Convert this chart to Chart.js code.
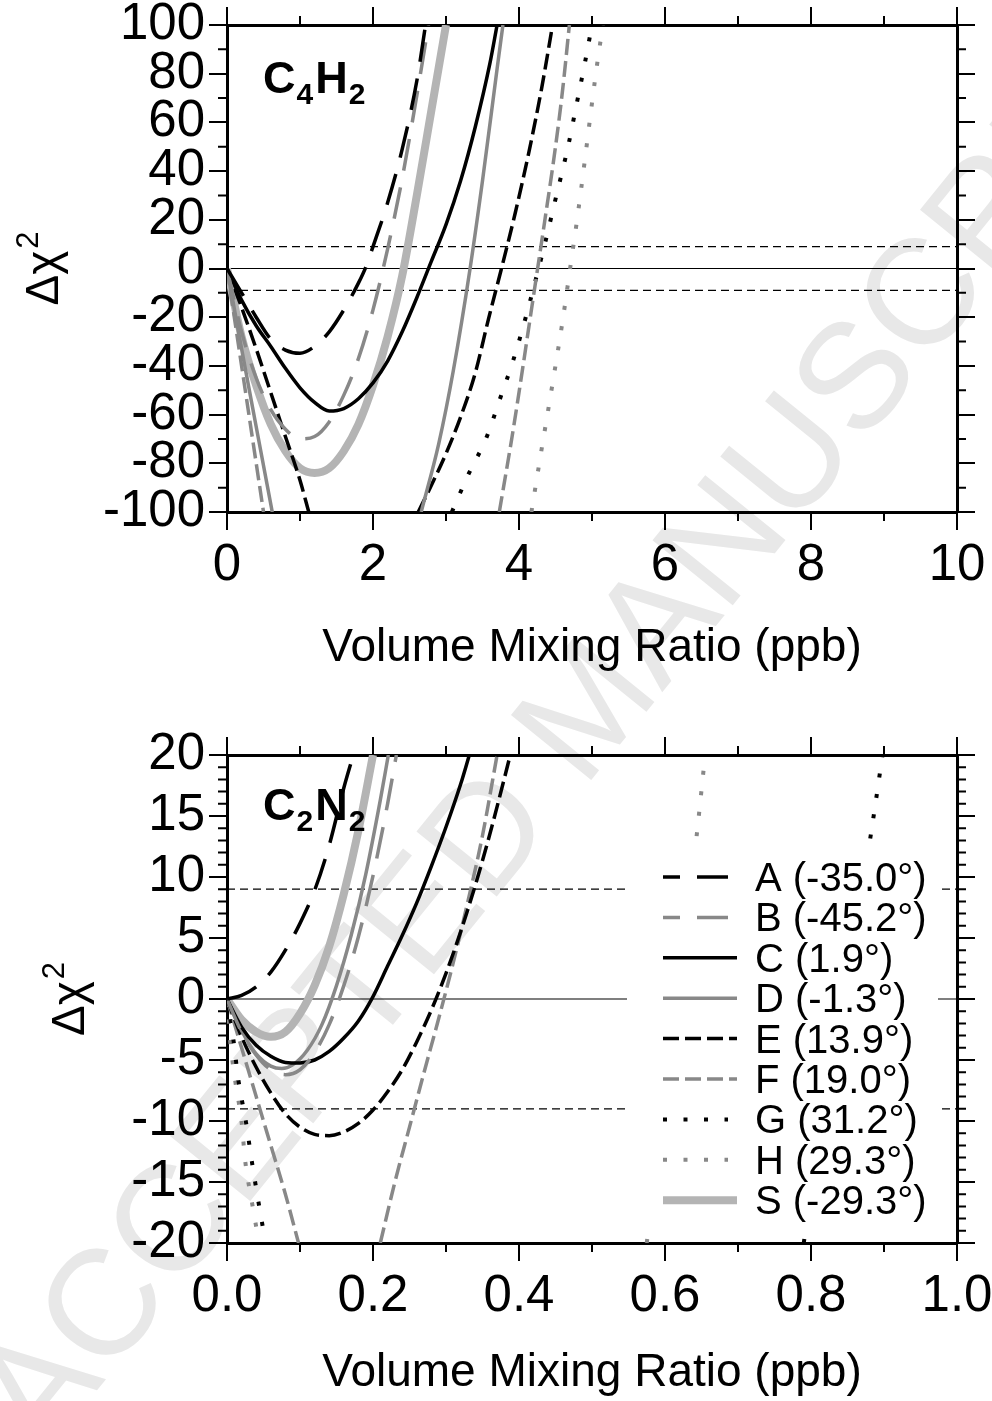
<!DOCTYPE html>
<html lang="en">
<head>
<meta charset="UTF-8">
<title>C4H2 / C2N2 delta chi-square</title>
<style>
    body {
        margin: 0;
        width: 992px;
        height: 1401px;
        position: relative;
        overflow: hidden;
        background: #fff;
        font-family: "Liberation Sans", Arial, sans-serif;
    }
    .wm {
        position: absolute;
        left: 585px;
        top: 705px;
        transform: translate(-50%, -50%) rotate(-51deg);
        font-size: 150px;
        line-height: 1;
        white-space: nowrap;
        color: #e8e8e8;
        z-index: 0;
    }
    canvas {
        position: absolute;
        left: 0;
        z-index: 1;
    }
    #c4h2 { top: 0; }
    #c2n2 { top: 700px; }
</style>
</head>
<body>
<div class="wm">ACCEPTED MANUSCRIPT</div>
<canvas id="c4h2" width="992" height="700"></canvas>
<canvas id="c2n2" width="992" height="701"></canvas>

<script src="https://cdn.jsdelivr.net/npm/chart.js@4.4.1/dist/chart.umd.min.js"></script>
<script>
// series labels (occultation, latitude)
const seriesNames = ['A (-35.0°)', 'B (-45.2°)', 'C (1.9°)', 'D (-1.3°)', 'E (13.9°)',
                     'F (19.0°)', 'G (31.2°)', 'H (29.3°)', 'S (-29.3°)'];

// C4H2 panel: [VMR ppb, delta chi^2]; null = curve leaves the plot
const c4h2A = [[0,0],[0.2,-10],[0.4,-20],[0.6,-29],[0.8,-33.5],[1.0,-34.8],[1.2,-32],[1.4,-26],[1.6,-17],[1.8,-6],[1.9,0.5],[2.0,9],[2.2,27],[2.4,49],[2.6,77],[2.72,100]];
const c4h2B = [[0,0],[0.2,-26],[0.4,-45],[0.6,-58],[0.8,-66],[1.0,-70],[1.2,-69],[1.4,-63],[1.6,-52],[1.8,-37],[2.0,-17],[2.2,8],[2.4,37],[2.6,71],[2.76,100]];
const c4h2C = [[0,0],[0.2,-13],[0.4,-23.5],[0.6,-32],[0.8,-41],[1.0,-49],[1.2,-55],[1.4,-58.5],[1.6,-57.5],[1.8,-53.5],[2.0,-47],[2.2,-38],[2.4,-26],[2.6,-12],[2.8,3],[3.0,18],[3.2,36],[3.4,58],[3.6,84],[3.7,100]];
const c4h2D = [[0,0],[0.2,-33],[0.4,-65],[0.62,-100],[1.6,null],[2.66,-100],[2.9,-72],[3.1,-42],[3.33,0],[3.5,36],[3.7,82],[3.78,100]];
const c4h2E = [[0,0],[0.2,-16],[0.4,-33],[0.6,-51],[0.8,-69],[1.0,-87],[1.12,-100],[1.8,null],[2.62,-100],[2.8,-89],[3.0,-76],[3.2,-61],[3.4,-43],[3.58,-21],[3.76,0],[3.95,23],[4.13,47],[4.31,74],[4.46,100]];
const c4h2F = [[0,0],[0.2,-40],[0.4,-80],[0.5,-100],[2.0,null],[3.73,-100],[3.9,-70],[4.01,-49],[4.13,-25],[4.25,-1],[4.35,19],[4.5,50],[4.6,74],[4.69,100]];
const c4h2G = [[3.08,-100],[3.3,-85],[3.56,-69],[3.74,-53.5],[3.92,-37.8],[4.08,-21.4],[4.22,-5.6],[4.36,10.8],[4.49,27.2],[4.68,51.2],[4.79,67.6],[4.9,84],[5.0,100]];
const c4h2H = [[4.17,-100],[4.3,-76],[4.45,-49],[4.6,-21],[4.7,0],[4.8,21],[4.9,44],[5.0,68],[5.08,86],[5.15,100]];
const c4h2S = [[0,0],[0.2,-28],[0.4,-48],[0.6,-64],[0.8,-75],[1.0,-82],[1.2,-84],[1.4,-82],[1.6,-75],[1.8,-64],[2.0,-48],[2.2,-28],[2.4,-3],[2.6,30],[2.8,65],[3.0,100]];

// C2N2 panel
const c2n2A = [[0,0],[0.02,0.3],[0.04,1.0],[0.06,2.2],[0.08,4.0],[0.1,6.2],[0.12,8.9],[0.14,12.6],[0.16,17.3],[0.173,20]];
const c2n2B = [[0,0],[0.02,-2.7],[0.04,-4.6],[0.06,-5.8],[0.08,-6.2],[0.1,-5.8],[0.12,-4.4],[0.14,-2.1],[0.16,1.1],[0.18,5.1],[0.2,10.1],[0.22,16],[0.232,20]];
const c2n2C = [[0,0],[0.02,-2.3],[0.04,-3.8],[0.06,-4.7],[0.08,-5.2],[0.1,-5.25],[0.12,-5.0],[0.14,-4.3],[0.16,-3.2],[0.18,-1.8],[0.2,0.2],[0.22,2.7],[0.24,5.2],[0.26,7.9],[0.28,10.9],[0.3,14.1],[0.32,17.6],[0.332,20]];
const c2n2D = [[0,0],[0.02,-2.6],[0.04,-4.5],[0.06,-5.5],[0.075,-5.7],[0.09,-5.4],[0.11,-4.2],[0.13,-2.1],[0.15,1.1],[0.17,5.2],[0.19,10.2],[0.21,16.3],[0.221,20]];
const c2n2E = [[0,0],[0.02,-3.1],[0.04,-5.6],[0.06,-7.7],[0.08,-9.4],[0.1,-10.5],[0.12,-11.1],[0.14,-11.2],[0.16,-10.9],[0.18,-10.2],[0.2,-9.1],[0.22,-7.6],[0.24,-5.8],[0.26,-3.5],[0.28,-0.9],[0.3,2.1],[0.32,5.5],[0.34,9.3],[0.36,13.5],[0.38,18.1],[0.388,20]];
const c2n2F = [[0,0],[0.02,-4],[0.04,-8],[0.06,-12],[0.08,-16],[0.098,-20],[0.15,null],[0.21,-20],[0.23,-15],[0.25,-10.5],[0.27,-6],[0.29,-1.6],[0.31,3],[0.33,8],[0.35,13.4],[0.37,20]];
const c2n2G = [[0,0],[0.0087,-3.3],[0.0155,-6.6],[0.026,-10.1],[0.034,-13.3],[0.043,-16.6],[0.052,-19.7],[0.4,null],[0.79,-20],[0.881,13.1],[0.898,20]];
const c2n2H = [[0,0],[0.0041,-3.3],[0.011,-6.6],[0.02,-10.1],[0.025,-13.3],[0.034,-16.6],[0.043,-19.7],[0.3,null],[0.575,-20],[0.643,13.2],[0.655,20]];
const c2n2S = [[0,0],[0.02,-1.7],[0.04,-2.7],[0.06,-3.1],[0.08,-2.7],[0.1,-1.2],[0.12,1.1],[0.14,4.3],[0.16,8.6],[0.18,13.8],[0.2,20]];

// delta chi^2 reference levels (0 solid, +/-9 dashed)
const refLevels = [0, 9, -9];

// axis ticks
const c4h2XTicks = [0, 2, 4, 6, 8, 10];
const c4h2XMinor = [1, 3, 5, 7, 9];
const c4h2YTicks = [-100, -80, -60, -40, -20, 0, 20, 40, 60, 80, 100];
const c4h2YMinor = [-90, -70, -50, -30, -10, 10, 30, 50, 70, 90];
const c2n2XTicks = [0, 0.2, 0.4, 0.6, 0.8, 1.0];
const c2n2XMinor = [0.1, 0.3, 0.5, 0.7, 0.9];
const c2n2YTicks = [-20, -15, -10, -5, 0, 5, 10, 15, 20];
const c2n2YMinor = [-19, -18, -17, -16, -14, -13, -12, -11, -9, -8, -7, -6, -4, -3, -2, -1,
                    1, 2, 3, 4, 6, 7, 8, 9, 11, 12, 13, 14, 16, 17, 18, 19];

const FONT = '"Liberation Sans", Arial, Helvetica, sans-serif';
Chart.defaults.font.family = FONT;
Chart.defaults.color = '#000';

// line look for A..H, S
const lineStyles = [
    {color: '#000000', width: 3.5, dash: [32, 17], order: 1, legendOffset: 15, legendEnd: 728},
    {color: '#888888', width: 3.5, dash: [32, 17], order: 2, legendOffset: 15, legendEnd: 728},
    {color: '#000000', width: 3.5, dash: [],       order: 3, legendOffset: 0,  legendEnd: 737},
    {color: '#888888', width: 3.5, dash: [],       order: 4, legendOffset: 0,  legendEnd: 737},
    {color: '#000000', width: 3.5, dash: [16, 6],  order: 5, legendOffset: 0,  legendEnd: 737},
    {color: '#888888', width: 3.5, dash: [16, 6],  order: 6, legendOffset: 0,  legendEnd: 737},
    {color: '#000000', width: 4,   dash: [4, 16.5], order: 7, legendOffset: 0, legendEnd: 728},
    {color: '#888888', width: 4,   dash: [4, 16.5], order: 8, legendOffset: 0, legendEnd: 728},
    {color: '#b4b4b4', width: 8,   dash: [],       order: 20, legendOffset: 0, legendEnd: 737}
];

function toPoints(arr) {
    return arr.map(p => ({x: p[0], y: p[1]}));
}

// minor tick marks on all four sides
const minorTicks = {
    id: 'minorTicks',
    afterDraw(chart, args, opts) {
        const {ctx, chartArea: a, scales} = chart;
        ctx.save();
        ctx.strokeStyle = '#000';
        ctx.lineWidth = 2;
        ctx.beginPath();
        opts.x.forEach(v => {
            const px = scales.x.getPixelForValue(v);
            ctx.moveTo(px, a.bottom); ctx.lineTo(px, a.bottom + 9);
            ctx.moveTo(px, a.top); ctx.lineTo(px, a.top - 9);
        });
        opts.y.forEach(v => {
            const py = scales.y.getPixelForValue(v);
            ctx.moveTo(a.left - 9, py); ctx.lineTo(a.left, py);
            ctx.moveTo(a.right, py); ctx.lineTo(a.right + 9, py);
        });
        ctx.stroke();
        ctx.restore();
    }
};

// molecule name with subscripts, e.g. C4H2
const formulaLabel = {
    id: 'formulaLabel',
    afterDatasetsDraw(chart, args, opts) {
        const ctx = chart.ctx;
        let x = opts.x;
        ctx.save();
        ctx.fillStyle = '#000';
        ctx.textBaseline = 'alphabetic';
        opts.parts.forEach(([txt, sub]) => {
            ctx.font = sub ? 'bold 30px ' + FONT : 'bold 45px ' + FONT;
            ctx.fillText(txt, x, sub ? opts.y + 11 : opts.y);
            x += ctx.measureText(txt).width + (sub ? 2 : 1);
        });
        ctx.restore();
    }
};

// rotated y title: delta chi with a real superscript 2
const yTitle = {
    id: 'yTitle',
    afterDraw(chart, args, opts) {
        const {ctx, chartArea: a} = chart;
        const big = '46px ' + FONT, small = '31px ' + FONT;
        ctx.save();
        ctx.translate(opts.x, (a.top + a.bottom) / 2);
        ctx.rotate(-Math.PI / 2);
        ctx.fillStyle = '#000';
        ctx.textBaseline = 'alphabetic';
        ctx.font = big;
        const w1 = ctx.measureText('Δχ').width;
        ctx.font = small;
        const w2 = ctx.measureText('2').width;
        const x0 = -(w1 + w2 + 2) / 2;
        ctx.font = big;
        ctx.fillText('Δχ', x0, 14);
        ctx.font = small;
        ctx.fillText('2', x0 + w1 + 2, -6);
        ctx.restore();
    }
};

// white legend box in the C2N2 panel
const legendBox = {
    id: 'legendBox',
    afterDatasetsDraw(chart, args, opts) {
        if (!opts.show) return;
        const ctx = chart.ctx;
        ctx.save();
        ctx.fillStyle = '#fff';
        ctx.fillRect(627, 148, 311, 388);
        seriesNames.forEach((name, i) => {
            const st = lineStyles[i];
            const y = 177 + i * 40.4;
            ctx.beginPath();
            ctx.setLineDash(st.dash);
            ctx.lineDashOffset = st.legendOffset;
            ctx.lineCap = 'butt';
            ctx.lineWidth = st.width;
            ctx.strokeStyle = st.color;
            ctx.moveTo(663, y);
            ctx.lineTo(st.legendEnd, y);
            ctx.stroke();
            ctx.setLineDash([]);
            ctx.fillStyle = '#000';
            ctx.font = '40px ' + FONT;
            ctx.textBaseline = 'alphabetic';
            ctx.fillText(name, 755, y + 14);
        });
        ctx.restore();
    }
};

function makePanel(id, p) {
    const datasets = [];
    refLevels.forEach(level => {
        datasets.push({
            data: [{x: p.xMin, y: level}, {x: p.xMax, y: level}],
            borderColor: '#000',
            borderWidth: 1.2,
            borderDash: level === 0 ? [] : [8, 5],
            pointRadius: 0,
            order: 30,
            xAxisID: 'x', yAxisID: 'y'
        });
    });
    p.series.forEach((s, i) => {
        const st = lineStyles[i];
        datasets.push({
            label: seriesNames[i],
            data: toPoints(s),
            borderColor: st.color,
            borderWidth: st.width,
            borderDash: st.dash,
            borderCapStyle: 'butt',
            cubicInterpolationMode: 'monotone',
            spanGaps: false,
            pointRadius: 0,
            fill: false,
            order: st.order,
            xAxisID: 'x', yAxisID: 'y'
        });
    });

    const grid = {drawOnChartArea: false, drawTicks: true, tickLength: 18, lineWidth: 2, tickWidth: 2, tickColor: '#000', color: '#000'};
    const border = {display: true, width: 3, color: '#000'};
    const setX = s => { s.ticks = p.xTicks.map(v => ({value: v})); };
    const setY = s => { s.ticks = p.yTicks.map(v => ({value: v})); };
    const noPadX = s => { s.paddingLeft = 0; s.paddingRight = 0; };
    const noPadY = s => { s.paddingTop = 0; s.paddingBottom = 0; };

    return new Chart(document.getElementById(id), {
        type: 'line',
        data: {datasets},
        options: {
            responsive: false,
            animation: false,
            events: [],
            layout: {padding: 0},
            plugins: {
                legend: {display: false},
                tooltip: {enabled: false},
                minorTicks: {x: p.xMinor, y: p.yMinor},
                formulaLabel: {x: 263, y: p.labelY, parts: p.formula},
                yTitle: {x: p.yTitleX},
                legendBox: {show: p.legend}
            },
            scales: {
                x: {
                    type: 'linear', position: 'bottom', min: p.xMin, max: p.xMax,
                    afterBuildTicks: setX,
                    afterFit: s => { s.height = p.bottomH; noPadX(s); },
                    ticks: {font: {size: 51}, color: '#000', padding: 5, maxRotation: 0, autoSkip: false, callback: p.xFmt},
                    grid, border,
                    title: {display: true, text: 'Volume Mixing Ratio (ppb)', color: '#000',
                            font: {size: 46}, padding: {top: 0, bottom: p.xTitlePad}}
                },
                x2: {
                    type: 'linear', position: 'top', min: p.xMin, max: p.xMax,
                    afterBuildTicks: setX,
                    afterFit: s => { s.height = p.topH; noPadX(s); },
                    ticks: {display: false},
                    grid, border
                },
                y: {
                    type: 'linear', position: 'left', min: p.yMin, max: p.yMax,
                    afterBuildTicks: setY,
                    afterFit: s => { s.width = 227; noPadY(s); },
                    ticks: {font: {size: 51}, color: '#000', padding: 4, autoSkip: false, callback: v => String(v)},
                    grid, border
                },
                y2: {
                    type: 'linear', position: 'right', min: p.yMin, max: p.yMax,
                    afterBuildTicks: setY,
                    afterFit: s => { s.width = 35; noPadY(s); },
                    ticks: {display: false},
                    grid, border
                }
            }
        },
        plugins: [minorTicks, formulaLabel, yTitle, legendBox]
    });
}

makePanel('c4h2', {
    series: [c4h2A, c4h2B, c4h2C, c4h2D, c4h2E, c4h2F, c4h2G, c4h2H, c4h2S],
    xMin: 0, xMax: 10, yMin: -100, yMax: 100,
    xTicks: c4h2XTicks, xMinor: c4h2XMinor, yTicks: c4h2YTicks, yMinor: c4h2YMinor,
    xFmt: v => String(v),
    topH: 25, bottomH: 188, xTitlePad: 24, yTitleX: 44,
    labelY: 93, formula: [['C', false], ['4', true], ['H', false], ['2', true]],
    legend: false
});

makePanel('c2n2', {
    series: [c2n2A, c2n2B, c2n2C, c2n2D, c2n2E, c2n2F, c2n2G, c2n2H, c2n2S],
    xMin: 0, xMax: 1, yMin: -20, yMax: 20,
    xTicks: c2n2XTicks, xMinor: c2n2XMinor, yTicks: c2n2YTicks, yMinor: c2n2YMinor,
    xFmt: v => v.toFixed(1),
    topH: 55, bottomH: 158, xTitlePad: 0, yTitleX: 70,
    labelY: 120, formula: [['C', false], ['2', true], ['N', false], ['2', true]],
    legend: true
});
</script>
</body>
</html>
